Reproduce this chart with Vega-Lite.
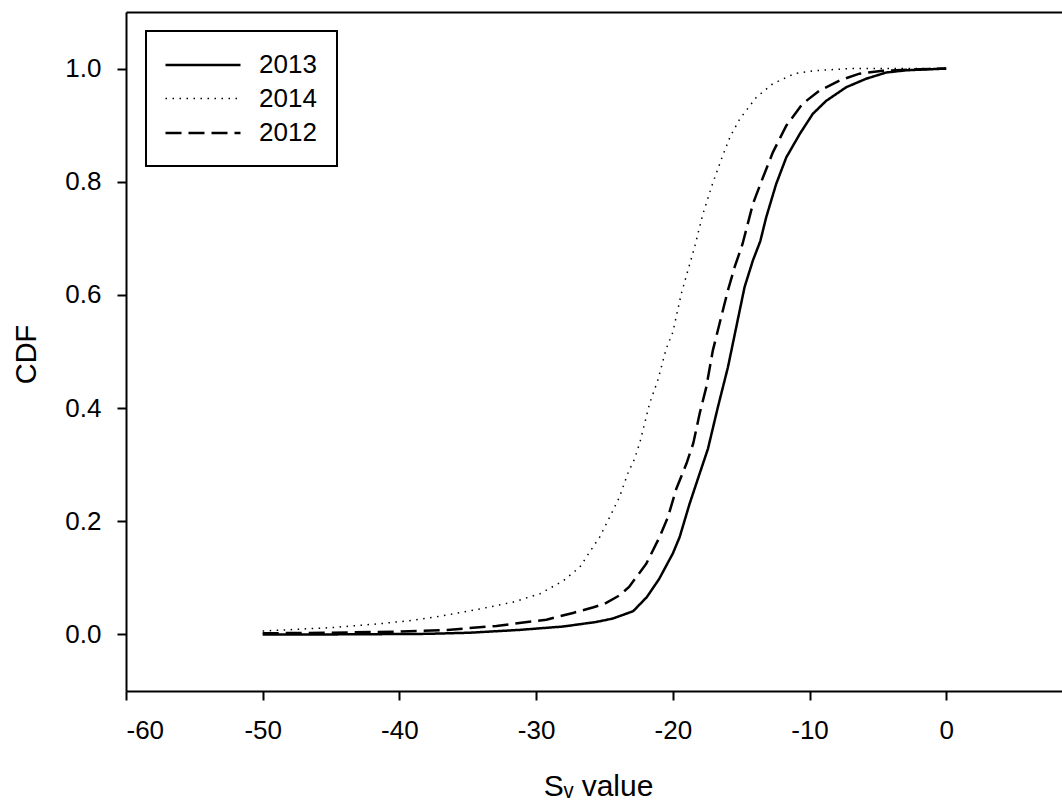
{
  "$schema": "https://vega.github.io/schema/vega-lite/v6.json",
  "width": 936,
  "height": 679,
  "autosize": {"type": "none"},
  "padding": {"left": 126, "top": 12, "right": 0, "bottom": 117},
  "background": "white",
  "config": {
    "view": {"stroke": null},
    "font": "Liberation Sans",
    "axis": {
      "grid": false,
      "domainColor": "black",
      "domainWidth": 2,
      "tickColor": "black",
      "tickWidth": 2,
      "tickSize": 9,
      "labelFont": "Liberation Sans",
      "labelFontSize": 26,
      "labelColor": "black",
      "titleFont": "Liberation Sans",
      "titleFontSize": 29,
      "titleFontWeight": "normal",
      "titleColor": "black"
    },
    "legend": {
      "labelFont": "Liberation Sans",
      "labelFontSize": 26,
      "labelColor": "black"
    }
  },
  "data": {
    "values": [
      {"year": "2013", "sv": -50, "cdf": 0.0},
      {"year": "2013", "sv": -45, "cdf": 0.0},
      {"year": "2013", "sv": -41.4, "cdf": 0.0005},
      {"year": "2013", "sv": -38, "cdf": 0.001},
      {"year": "2013", "sv": -34.85, "cdf": 0.003},
      {"year": "2013", "sv": -31.2, "cdf": 0.008},
      {"year": "2013", "sv": -28.0, "cdf": 0.014},
      {"year": "2013", "sv": -25.6, "cdf": 0.022},
      {"year": "2013", "sv": -24.4, "cdf": 0.028},
      {"year": "2013", "sv": -22.9, "cdf": 0.041},
      {"year": "2013", "sv": -21.9, "cdf": 0.066},
      {"year": "2013", "sv": -21.0, "cdf": 0.098},
      {"year": "2013", "sv": -20.0, "cdf": 0.143},
      {"year": "2013", "sv": -19.5, "cdf": 0.172},
      {"year": "2013", "sv": -18.77, "cdf": 0.231},
      {"year": "2013", "sv": -18.04, "cdf": 0.284},
      {"year": "2013", "sv": -17.43, "cdf": 0.328},
      {"year": "2013", "sv": -16.7, "cdf": 0.402},
      {"year": "2013", "sv": -15.97, "cdf": 0.472},
      {"year": "2013", "sv": -15.36, "cdf": 0.543},
      {"year": "2013", "sv": -14.75, "cdf": 0.614},
      {"year": "2013", "sv": -14.14, "cdf": 0.661},
      {"year": "2013", "sv": -13.6, "cdf": 0.695},
      {"year": "2013", "sv": -13.17, "cdf": 0.737},
      {"year": "2013", "sv": -12.44, "cdf": 0.796},
      {"year": "2013", "sv": -11.7, "cdf": 0.843},
      {"year": "2013", "sv": -10.7, "cdf": 0.885},
      {"year": "2013", "sv": -9.76, "cdf": 0.92},
      {"year": "2013", "sv": -8.78, "cdf": 0.943},
      {"year": "2013", "sv": -7.32, "cdf": 0.967},
      {"year": "2013", "sv": -5.86, "cdf": 0.982},
      {"year": "2013", "sv": -4.4, "cdf": 0.993},
      {"year": "2013", "sv": -2.93, "cdf": 0.997},
      {"year": "2013", "sv": 0, "cdf": 1.0},
      {"year": "2014", "sv": -50, "cdf": 0.006},
      {"year": "2014", "sv": -45, "cdf": 0.012},
      {"year": "2014", "sv": -41.4, "cdf": 0.019},
      {"year": "2014", "sv": -39.0, "cdf": 0.025},
      {"year": "2014", "sv": -36.56, "cdf": 0.034},
      {"year": "2014", "sv": -34.1, "cdf": 0.045},
      {"year": "2014", "sv": -31.7, "cdf": 0.057},
      {"year": "2014", "sv": -29.7, "cdf": 0.072},
      {"year": "2014", "sv": -28.0, "cdf": 0.095},
      {"year": "2014", "sv": -26.8, "cdf": 0.119},
      {"year": "2014", "sv": -26.1, "cdf": 0.145},
      {"year": "2014", "sv": -25.35, "cdf": 0.172},
      {"year": "2014", "sv": -24.5, "cdf": 0.213},
      {"year": "2014", "sv": -23.9, "cdf": 0.243},
      {"year": "2014", "sv": -23.3, "cdf": 0.284},
      {"year": "2014", "sv": -22.8, "cdf": 0.31},
      {"year": "2014", "sv": -22.4, "cdf": 0.34},
      {"year": "2014", "sv": -21.7, "cdf": 0.408},
      {"year": "2014", "sv": -21.1, "cdf": 0.449},
      {"year": "2014", "sv": -20.48, "cdf": 0.505},
      {"year": "2014", "sv": -20.0, "cdf": 0.534},
      {"year": "2014", "sv": -19.38, "cdf": 0.602},
      {"year": "2014", "sv": -18.9, "cdf": 0.643},
      {"year": "2014", "sv": -18.4, "cdf": 0.685},
      {"year": "2014", "sv": -17.8, "cdf": 0.743},
      {"year": "2014", "sv": -17.1, "cdf": 0.796},
      {"year": "2014", "sv": -16.4, "cdf": 0.843},
      {"year": "2014", "sv": -15.8, "cdf": 0.88},
      {"year": "2014", "sv": -15.1, "cdf": 0.911},
      {"year": "2014", "sv": -13.9, "cdf": 0.949},
      {"year": "2014", "sv": -12.7, "cdf": 0.973},
      {"year": "2014", "sv": -11.1, "cdf": 0.991},
      {"year": "2014", "sv": -9.76, "cdf": 0.996},
      {"year": "2014", "sv": -7.08, "cdf": 1.0},
      {"year": "2014", "sv": -4, "cdf": 1.0},
      {"year": "2014", "sv": 0, "cdf": 1.0},
      {"year": "2012", "sv": -50, "cdf": 0.002},
      {"year": "2012", "sv": -45, "cdf": 0.003},
      {"year": "2012", "sv": -40, "cdf": 0.005},
      {"year": "2012", "sv": -36.5, "cdf": 0.008},
      {"year": "2012", "sv": -32.9, "cdf": 0.015},
      {"year": "2012", "sv": -29.25, "cdf": 0.026},
      {"year": "2012", "sv": -27.3, "cdf": 0.038},
      {"year": "2012", "sv": -25.8, "cdf": 0.048},
      {"year": "2012", "sv": -25.0, "cdf": 0.054},
      {"year": "2012", "sv": -23.9, "cdf": 0.069},
      {"year": "2012", "sv": -23.2, "cdf": 0.084},
      {"year": "2012", "sv": -21.94, "cdf": 0.125},
      {"year": "2012", "sv": -20.97, "cdf": 0.172},
      {"year": "2012", "sv": -20.36, "cdf": 0.207},
      {"year": "2012", "sv": -19.75, "cdf": 0.257},
      {"year": "2012", "sv": -19.0, "cdf": 0.302},
      {"year": "2012", "sv": -18.5, "cdf": 0.338},
      {"year": "2012", "sv": -18.04, "cdf": 0.39},
      {"year": "2012", "sv": -17.55, "cdf": 0.437},
      {"year": "2012", "sv": -17.07, "cdf": 0.502},
      {"year": "2012", "sv": -16.46, "cdf": 0.561},
      {"year": "2012", "sv": -15.97, "cdf": 0.608},
      {"year": "2012", "sv": -15.48, "cdf": 0.649},
      {"year": "2012", "sv": -14.9, "cdf": 0.69},
      {"year": "2012", "sv": -14.14, "cdf": 0.761},
      {"year": "2012", "sv": -13.4, "cdf": 0.808},
      {"year": "2012", "sv": -12.68, "cdf": 0.852},
      {"year": "2012", "sv": -11.7, "cdf": 0.899},
      {"year": "2012", "sv": -10.5, "cdf": 0.938},
      {"year": "2012", "sv": -9.27, "cdf": 0.961},
      {"year": "2012", "sv": -7.8, "cdf": 0.979},
      {"year": "2012", "sv": -6.35, "cdf": 0.991},
      {"year": "2012", "sv": -4.64, "cdf": 0.996},
      {"year": "2012", "sv": -2, "cdf": 0.999},
      {"year": "2012", "sv": 0, "cdf": 1.0}
    ]
  },
  "layer": [
    {
      "mark": {"type": "line", "color": "black", "clip": true},
      "encoding": {
        "x": {
          "field": "sv",
          "type": "quantitative",
          "scale": {"domain": [-60, 8.47], "nice": false, "zero": false},
          "axis": {
            "orient": "bottom",
            "values": [-60, -50, -40, -30, -20, -10, 0],
            "labelExpr": "toString(datum.value)",
            "labelPadding": 17,
            "title": "Sᵥ value",
            "titleFontSize": 30,
            "titleBaseline": "alphabetic",
            "titleX": 472,
            "titleY": 104
          }
        },
        "y": {
          "field": "cdf",
          "type": "quantitative",
          "scale": {"domain": [-0.1, 1.1], "nice": false, "zero": false},
          "axis": {
            "orient": "left",
            "values": [0, 0.2, 0.4, 0.6, 0.8, 1.0],
            "format": ".1f",
            "labelPadding": 16,
            "title": "CDF",
            "titleBaseline": "alphabetic",
            "titleX": -91,
            "titleY": 342
          }
        },
        "strokeDash": {
          "field": "year",
          "type": "nominal",
          "scale": {"domain": ["2013", "2014", "2012"], "range": [[1, 0], [1.5, 5.5], [16, 7]]},
          "legend": {
            "title": null,
            "orient": "none",
            "legendX": 20,
            "legendY": 19,
            "padding": 20,
            "strokeColor": "black",
            "symbolType": "M-3,0H3",
            "symbolSize": 625,
            "symbolOffset": 23,
            "symbolStrokeColor": "black",
            "labelOffset": 42,
            "rowPadding": 7,
            "encode": {"legend": {"update": {"strokeWidth": {"value": 2}}}}
          }
        },
        "strokeWidth": {
          "field": "year",
          "type": "nominal",
          "scale": {"type": "ordinal", "domain": ["2013", "2014", "2012"], "range": [2.5, 1.5, 2.5]},
          "legend": null
        }
      }
    },
    {
      "mark": {"type": "line", "opacity": 0},
      "encoding": {
        "x": {
          "field": "sv",
          "type": "quantitative",
          "axis": {"orient": "top", "labels": false, "ticks": false, "title": null}
        },
        "y": {"field": "cdf", "type": "quantitative", "axis": null}
      }
    }
  ],
  "resolve": {"axis": {"x": "independent", "y": "independent"}}
}
